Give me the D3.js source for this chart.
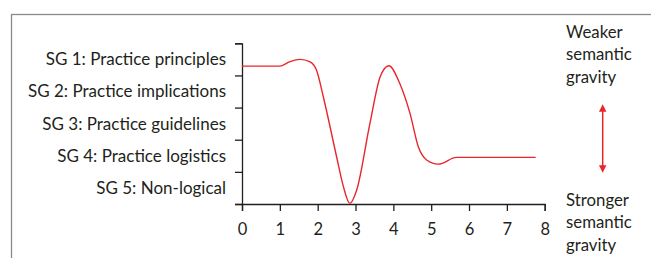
<!DOCTYPE html>
<html>
<head>
<meta charset="utf-8">
<script src="https://cdn.jsdelivr.net/npm/d3@7"></script>
<style>
  body { margin: 0; background: #fff; }
  svg text { font-family: Lato, "Open Sans", sans-serif; fill: #231f20; }
</style>
</head>
<body>
<div id="chart"></div>
<script>
// --- Data ---
const levelLabels = [
    "SG 1: Practice principles",
    "SG 2: Practice implications",
    "SG 3: Practice guidelines",
    "SG 4: Practice logistics",
    "SG 5: Non-logical"
];
const xTicks = [0, 1, 2, 3, 4, 5, 6, 7, 8];
// profile position (x) and height on the 0-5 scale (5 = top)
const profileX = [0, 1, 1.25, 1.53, 1.8, 1.97, 2.15, 2.5, 2.68, 2.85, 3.03, 3.38, 3.65, 3.88, 4.17, 4.44, 4.66, 4.88, 5.19, 5.67, 7.76];
const profileY = [4.29, 4.29, 4.42, 4.5, 4.42, 4.16, 3.33, 1.47, 0.54, 0.02, 0.43, 2.5, 3.95, 4.3, 3.75, 2.82, 1.78, 1.37, 1.24, 1.45, 1.45];
const sideTop = ["Weaker", "semantic", "gravity"];
const sideBottom = ["Stronger", "semantic", "gravity"];

const width = 651, height = 258;
const red = "#e8262b";

const svg = d3.select("#chart").append("svg")
    .attr("width", width)
    .attr("height", height);

// frame around the figure (runs off the right and bottom edge)
svg.append("rect")
    .attr("x", 11.5).attr("y", 14.5)
    .attr("width", 700).attr("height", 300)
    .attr("fill", "none")
    .attr("stroke", "#8a8a8a")
    .attr("stroke-width", 1.3);

const x = d3.scaleLinear().domain([0, 8]).range([242, 544.7]);
const y = d3.scaleLinear().domain([0, 5]).range([204, 43.3]);

// y axis: ticks at level boundaries, labels in between
svg.append("g")
    .attr("transform", `translate(${x(0)},0)`)
    .call(d3.axisLeft(y).tickValues([0, 1, 2, 3, 4, 5]).tickSize(7).tickFormat(""));

const yLabels = svg.append("g")
    .attr("transform", `translate(${x(0) - 16},0)`)
    .call(d3.axisLeft(y).tickValues([4.5, 3.5, 2.5, 1.5, 0.5]).tickSize(0)
        .tickFormat((d, i) => levelLabels[i]));
yLabels.select(".domain").remove();
yLabels.selectAll("text").attr("font-size", 17).attr("x", 0);

const xAxis = svg.append("g")
    .attr("transform", `translate(0,${y(0)})`)
    .call(d3.axisBottom(x).tickValues(xTicks).tickSize(7).tickPadding(12).tickFormat(d3.format("d")));
xAxis.selectAll("text").attr("font-size", 16.5);

svg.selectAll(".domain, .tick line").attr("stroke", "#231f20").attr("stroke-width", 1.3);

// profile line
const line = d3.line()
    .x((d, i) => x(profileX[i]))
    .y(d => y(d))
    .curve(d3.curveMonotoneX);

svg.append("path")
    .datum(profileY)
    .attr("d", line)
    .attr("fill", "none")
    .attr("stroke", red)
    .attr("stroke-width", 1.4);

// double-headed arrow on the right
const defs = svg.append("defs");
["start", "end"].forEach(k => {
    defs.append("marker")
        .attr("id", "arr-" + k)
        .attr("viewBox", "0 0 10 10")
        .attr("refX", 5).attr("refY", 5)
        .attr("markerWidth", 5).attr("markerHeight", 6)
        .attr("orient", k === "start" ? "auto-start-reverse" : "auto")
        .append("path")
        .attr("d", "M0,0 L10,5 L0,10 z")
        .attr("fill", red);
});
svg.append("line")
    .attr("x1", 602.7).attr("x2", 602.7)
    .attr("y1", 108).attr("y2", 169)
    .attr("stroke", red)
    .attr("stroke-width", 1.5)
    .attr("marker-start", "url(#arr-start)")
    .attr("marker-end", "url(#arr-end)");

const sideText = (lines, y0) => {
    svg.append("text")
        .attr("x", 566)
        .attr("y", y0)
        .attr("font-size", 16.8)
        .selectAll("tspan").data(lines).join("tspan")
        .attr("x", 566)
        .attr("dy", (d, i) => i ? 22.3 : 0)
        .text(d => d);
};
sideText(sideTop, 38);
sideText(sideBottom, 206);
</script>
</body>
</html>
